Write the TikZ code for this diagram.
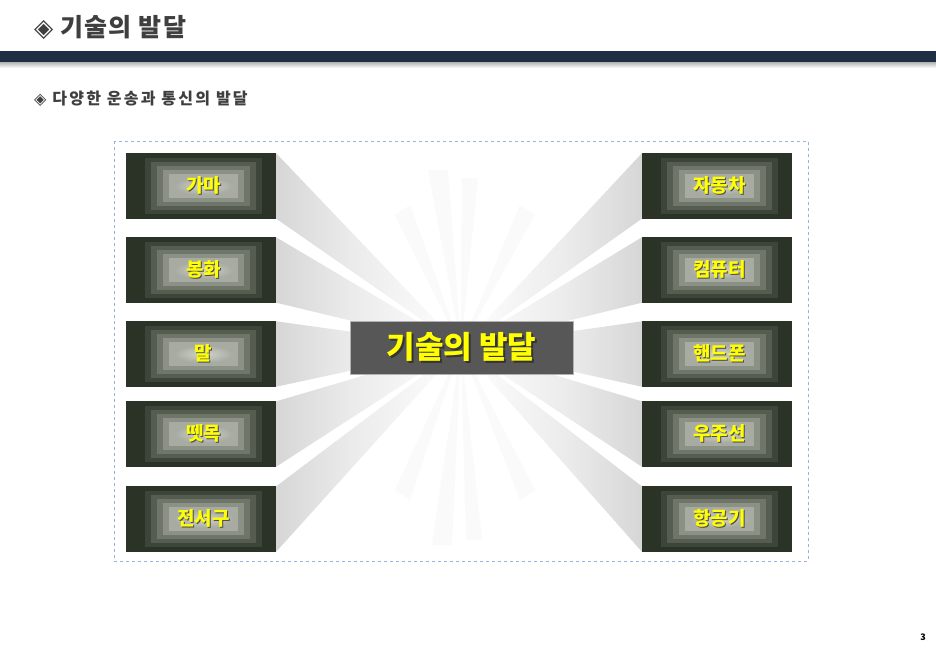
\documentclass[tikz,border=0pt]{standalone}
\usepackage{fontspec}
\setmainfont{Noto Sans CJK KR}
\newfontfamily\symfont{DejaVu Sans}
\usetikzlibrary{shadings}
\definecolor{barcol}{HTML}{1F3044}
\definecolor{boxouter}{HTML}{2B3226}
\definecolor{lay1}{HTML}{3D4439}
\definecolor{lay2}{HTML}{555C50}
\definecolor{lay3}{HTML}{6F7569}
\definecolor{lay4}{HTML}{8B9184}
\definecolor{lay5}{HTML}{A7ABA1}
\definecolor{lay6}{HTML}{C6CAC0}
\definecolor{titlegray}{HTML}{3F3F3F}
\definecolor{dashblue}{HTML}{95B3DE}
\definecolor{labyellow}{HTML}{FFFF00}
\definecolor{centerfill}{HTML}{575757}
\definecolor{raygray}{HTML}{BDBDBD}
\pgfdeclarehorizontalshading{rayL}{100bp}{color(0bp)=(raygray); color(45bp)=(white!92!black); color(75bp)=(white); color(100bp)=(white)}
\pgfdeclarehorizontalshading{rayR}{100bp}{color(0bp)=(white); color(25bp)=(white); color(55bp)=(white!92!black); color(100bp)=(raygray)}
\newcommand{\shadowed}[4]{\makebox[0pt][l]{\hspace{#2}\raisebox{#3}{\color{#1}#4}}#4}
\tikzset{
  titletext/.style={font=\fontsize{25}{28}\selectfont\bfseries\addfontfeatures{LetterSpace=5}, text=titlegray, inner sep=0pt, anchor=west},
  subtext/.style={font=\fontsize{16}{18}\selectfont\bfseries\addfontfeatures{LetterSpace=14}, text=titlegray, inner sep=0pt, anchor=west},
  itembox/.style={minimum width=150pt, minimum height=65pt, inner sep=0pt, fill=boxouter, draw=none},
  itemlabel/.style={font=\fontsize{19}{21}\selectfont\bfseries, text=labyellow, inner sep=0pt},
  centerbox/.style={minimum width=223pt, minimum height=53pt, inner sep=0pt, fill=centerfill, draw=gray!60, line width=0.8pt},
  centerlabel/.style={font=\fontsize{31}{34}\selectfont\bfseries, text=labyellow, inner sep=0pt},
  leftray/.style={shading=rayL, draw=none},
  rightray/.style={shading=rayR, draw=none},
  spike/.style={fill=black!2, draw=none},
}
\newcommand{\layers}[1]{%
  \fill[lay1] ([xshift=19pt,yshift=-5pt]#1.north west) rectangle ([xshift=-14pt,yshift=5pt]#1.south east);
  \fill[lay2] ([xshift=25pt,yshift=-9pt]#1.north west) rectangle ([xshift=-20pt,yshift=9pt]#1.south east);
  \fill[lay3] ([xshift=31pt,yshift=-13pt]#1.north west) rectangle ([xshift=-26pt,yshift=13pt]#1.south east);
  \fill[lay4] ([xshift=37pt,yshift=-17pt]#1.north west) rectangle ([xshift=-32pt,yshift=17pt]#1.south east);
  \fill[lay5] ([xshift=43pt,yshift=-21pt]#1.north west) rectangle ([xshift=-38pt,yshift=21pt]#1.south east);
  \shade[inner color=lay6!80!white, outer color=lay5] ([xshift=48pt,yshift=-24pt]#1.north west) rectangle ([xshift=-43pt,yshift=24pt]#1.south east);
}
\newcommand{\itemtext}[2]{%
  \node[itemlabel] (#1t) at ([xshift=2.5pt]#1.center) {\shadowed{black!70}{1pt}{-1.5pt}{#2}};
}
\begin{document}
\begin{tikzpicture}[x=1pt,y=-1pt]
\useasboundingbox (0,0) rectangle (936,648);
\fill[white] (0,0) rectangle (936,648);

% header
\node[titletext] (title) at (34,27) {{\symfont ◈} 기술의 발달};
\shade[top color=black!35, bottom color=white] (0,61) rectangle (936,68);
\fill[barcol] (0,51) rectangle (936,62);
\node[subtext] (sub) at (34,99) {{\symfont ◈} 다양한 운송과 통신의 발달};

% dashed frame
\draw[dashblue, dashed, line width=0.9pt] (114,141) rectangle (808,561);

% center point
\coordinate (C) at (461,347);

% faint starburst spikes
\fill[spike] (C) -- (428,170) -- (448,170) -- cycle;
\fill[spike] (C) -- (462,178) -- (478,178) -- cycle;
\fill[spike] (C) -- (432,545) -- (452,545) -- cycle;
\fill[spike] (C) -- (466,540) -- (482,540) -- cycle;
\fill[spike] (C) -- (395,215) -- (410,205) -- cycle;
\fill[spike] (C) -- (520,205) -- (535,215) -- cycle;
\fill[spike] (C) -- (395,490) -- (410,500) -- cycle;
\fill[spike] (C) -- (520,500) -- (535,490) -- cycle;

% boxes
\foreach \n/\y in {L1/186, L2/270, L3/354, L4/434, L5/519} {
  \node[itembox] (\n) at (201,\y) {};
}
\foreach \n/\y in {R1/186, R2/270, R3/354, R4/434, R5/519} {
  \node[itembox] (\n) at (717,\y) {};
}

% rays
\foreach \n in {L1,L2,L3,L4,L5} {
  \shade[leftray] (\n.north east) -- (\n.south east) -- (C) -- cycle;
}
\foreach \n in {R1,R2,R3,R4,R5} {
  \shade[rightray] (\n.north west) -- (\n.south west) -- (C) -- cycle;
}

% redraw boxes on top
\foreach \n in {L1,L2,L3,L4,L5,R1,R2,R3,R4,R5} {
  \fill[boxouter] (\n.north west) rectangle (\n.south east);
  \layers{\n}
}

\itemtext{L1}{가마}
\itemtext{L2}{봉화}
\itemtext{L3}{말}
\itemtext{L4}{뗏목}
\itemtext{L5}{전서구}
\itemtext{R1}{자동차}
\itemtext{R2}{컴퓨터}
\itemtext{R3}{핸드폰}
\itemtext{R4}{우주선}
\itemtext{R5}{항공기}

% center box
\node[centerbox] (center) at (461.5,347.5) {};
\node[centerlabel] (centertext) at (center.center) {\shadowed{black!80}{2pt}{-2pt}{기술의 발달}};

% page number
\node[font=\fontsize{9}{10}\selectfont\bfseries, inner sep=0pt] (pnum) at (923,637) {3};
\end{tikzpicture}
\end{document}
